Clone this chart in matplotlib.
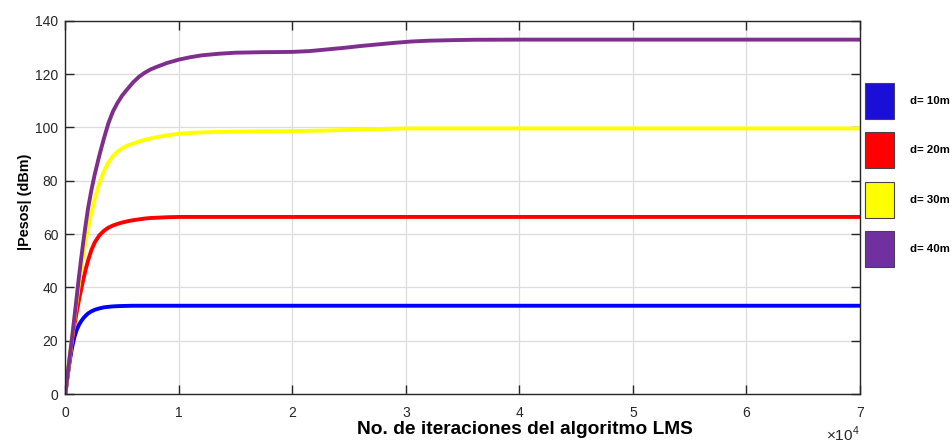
"""
pesos del algoritmo LMS para varias distancias
"""

import matplotlib
matplotlib.use("Agg")
import matplotlib.pyplot as plt
from matplotlib.patches import Patch
from matplotlib.ticker import FuncFormatter

plt.rcParams['font.family'] = ['Liberation Sans', 'DejaVu Sans']
plt.rcParams['mathtext.fontset'] = 'custom'
plt.rcParams['mathtext.rm'] = 'Liberation Sans'

# valores
iteraciones = [0, 200, 400, 600, 800, 1000, 1200, 1400, 1600, 1800, 2000, 2300,
               2600, 3000, 3400, 3800, 4200, 4600, 5000, 5500, 6000, 6500,
               7000, 7500, 8000, 9000, 10000, 11000, 12000, 13500, 15000, 17500,
               20000, 21500, 23000, 24500, 26000, 27500, 29000, 30500, 32000,
               34000, 36000, 40000, 50000, 60000, 70000]

pesos_10m = [0, 6.6, 12.6, 17.5, 21.3, 24.0, 25.9, 27.3, 28.5, 29.4, 30.2, 31.0,
             31.6, 32.1, 32.5, 32.7, 32.85, 32.95, 33.0, 33.05, 33.1, 33.1,
             33.1, 33.1, 33.1, 33.1, 33.1, 33.1, 33.1, 33.1, 33.1, 33.1,
             33.1, 33.1, 33.1, 33.1, 33.1, 33.1, 33.1, 33.1, 33.1,
             33.1, 33.1, 33.1, 33.1, 33.1, 33.1]

pesos_20m = [0, 7, 13.8, 20.2, 25.8, 30.6, 35.2, 39.3, 43.2, 46.8, 50, 54,
             56.9, 59.5, 61.2, 62.4, 63.2, 63.8, 64.3, 64.8, 65.2, 65.5,
             65.8, 66.0, 66.1, 66.3, 66.4, 66.4, 66.4, 66.4, 66.4, 66.4,
             66.4, 66.4, 66.4, 66.4, 66.4, 66.4, 66.4, 66.4, 66.4,
             66.4, 66.4, 66.4, 66.4, 66.4, 66.4]

pesos_30m = [0, 7.1, 14.2, 21.2, 28.1, 34.8, 41.2, 47.2, 52.7, 57.6, 62, 68,
             73.3, 79, 83.5, 86.9, 89.2, 90.9, 92.1, 93.2, 94.0, 94.7,
             95.3, 95.8, 96.3, 97.0, 97.6, 97.9, 98.1, 98.3, 98.4, 98.5,
             98.6, 98.7, 98.8, 99.0, 99.2, 99.35, 99.5, 99.6, 99.6,
             99.6, 99.6, 99.6, 99.6, 99.6, 99.6]

pesos_40m = [0, 7.2, 14.3, 21.4, 28.7, 36.2, 43.9, 50.9, 57.5, 63.7, 69.5, 76.5,
             82.5, 89.5, 95.8, 101.6, 106, 109.2, 111.9, 114.5, 117, 119,
             120.5, 121.7, 122.6, 124.2, 125.4, 126.3, 127.0, 127.6, 128.0, 128.2,
             128.3, 128.6, 129.2, 129.8, 130.5, 131.1, 131.7, 132.2, 132.5,
             132.7, 132.85, 132.9, 132.9, 132.9, 132.9]

etiquetas = ['d= 10m', 'd= 20m', 'd= 30m', 'd= 40m']
colores = ['#0000ff', '#ff0000', '#ffff00', '#7e2f8e']
colores_caja = ['#1a0fd6', '#ff0000', '#ffff00', '#7030a0']

fig = plt.figure(figsize=(9.52, 4.43), dpi=100)
ax = fig.add_axes([65.3 / 952, 1 - 394 / 443, (860 - 65.3) / 952, (394 - 20.7) / 443])

for serie, color in zip([pesos_10m, pesos_20m, pesos_30m, pesos_40m], colores):
    ax.plot(iteraciones, serie, color=color, linewidth=2.8, solid_joinstyle='round')

ax.set_xlim(0, 70000)
ax.set_ylim(0, 140)
ax.set_xticks(range(0, 70001, 10000))
ax.set_yticks(range(0, 141, 20))
ax.xaxis.set_major_formatter(FuncFormatter(lambda v, p: f'{v / 1e4:g}'))
ax.text(1.0, -0.083, r'$\times$10$^{4}$', transform=ax.transAxes, ha='right', va='top',
        fontsize=11, color='#262626')

ax.grid(True, color='#dcdcdc', linewidth=0.9)
ax.set_axisbelow(True)
ax.tick_params(direction='in', length=6.5, width=1, top=True, right=True,
               labelsize=10, colors='#262626', pad=5)
ax.tick_params(axis='x', pad=8.5)
for s in ax.spines.values():
    s.set_color('#262626')
    s.set_linewidth(1)

ax.set_xlabel('No. de iteraciones del algoritmo LMS', fontsize=13.8, fontweight='bold')
ax.xaxis.set_label_coords(0.578, -0.072)
ax.set_ylabel('|Pesos| (dBm)', fontsize=10.4, fontweight='bold')
ax.yaxis.set_label_coords(-0.042, 0.515)

cajas = [Patch(facecolor=c, edgecolor='#444444', linewidth=0.8) for c in colores_caja]
fig.legend(cajas, etiquetas, loc='upper left', bbox_to_anchor=(865 / 952, 1 - 83 / 443),
           frameon=False, prop={'weight': 'bold', 'size': 8.2},
           handlelength=2.55, handleheight=4.485, labelspacing=1.17,
           handletextpad=1.4, borderpad=0, borderaxespad=0)

plt.savefig('out.png', dpi=100)
